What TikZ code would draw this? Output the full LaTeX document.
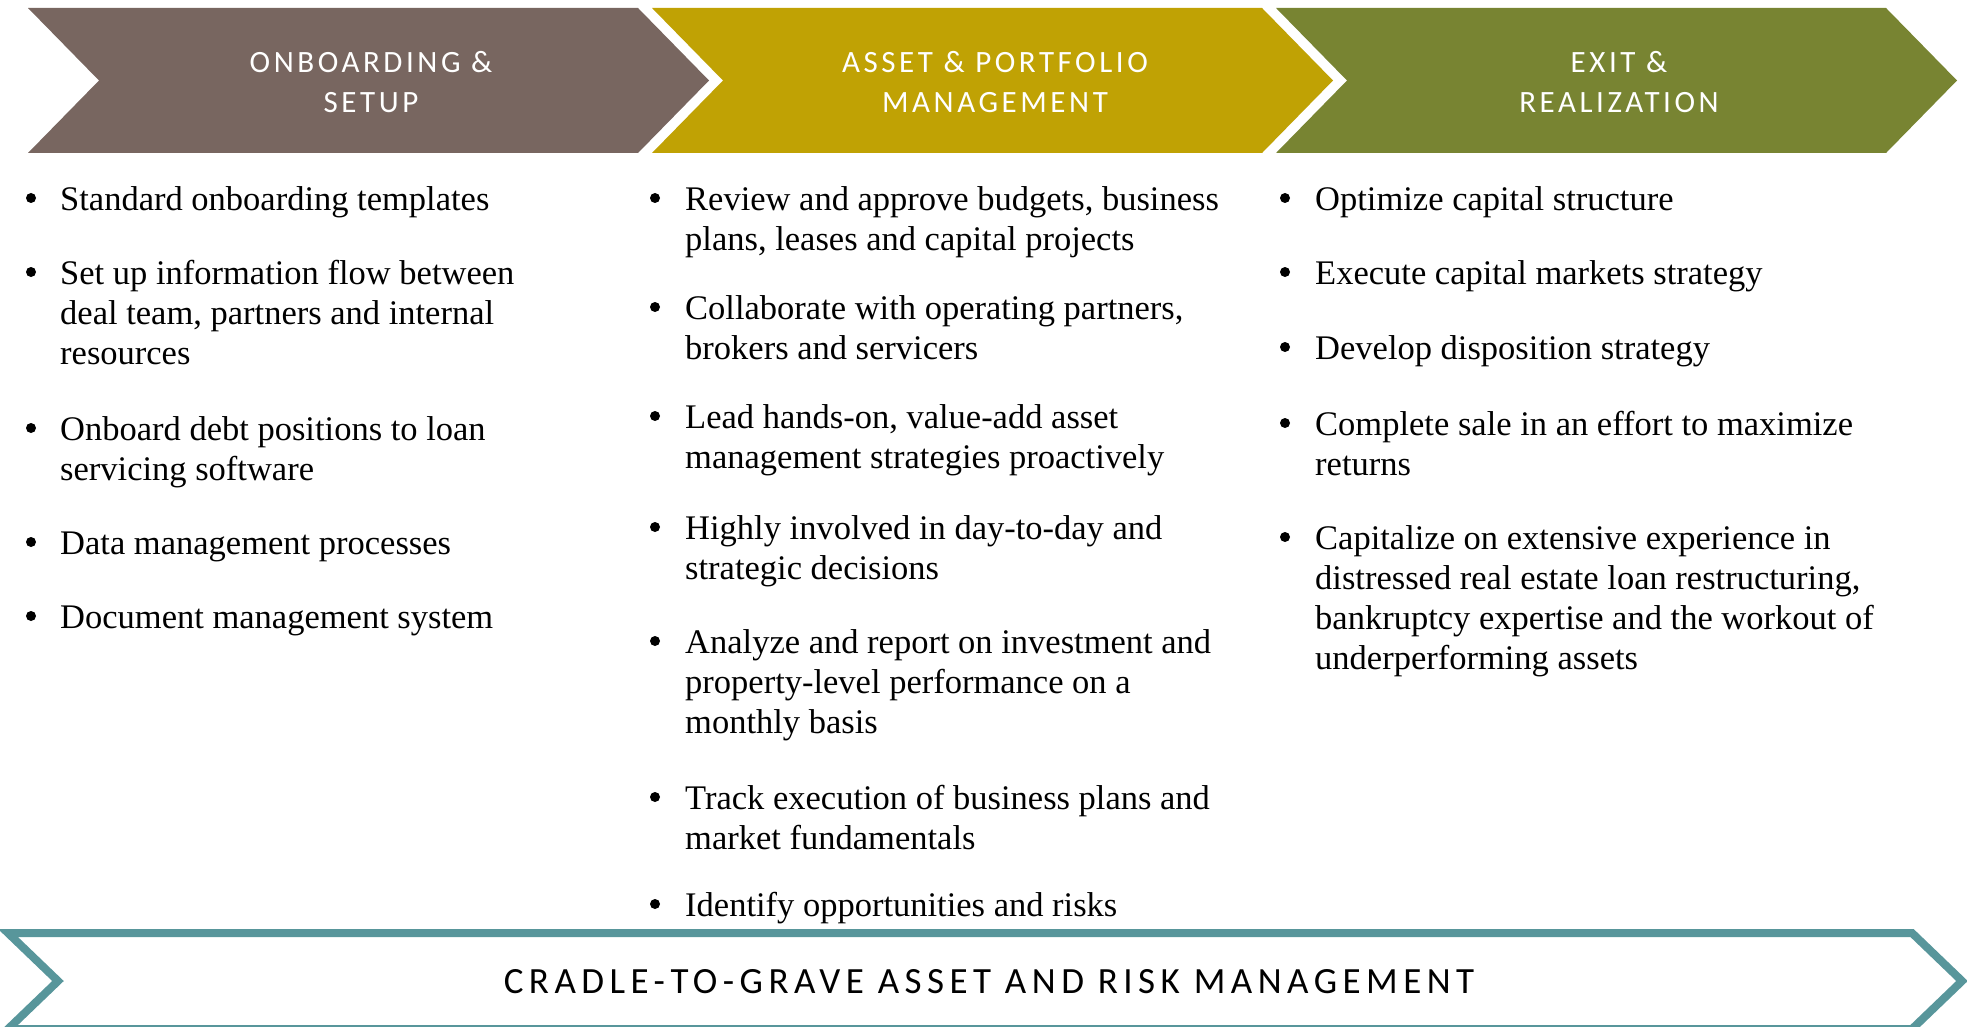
\documentclass[tikz,border=0pt]{standalone}
\usepackage{fontspec}
\setmainfont{Liberation Serif}
\newfontfamily\headfont[LetterSpace=11.5]{Carlito}
\newfontfamily\bandfont[LetterSpace=14.8]{Carlito}
\usetikzlibrary{positioning}
\definecolor{onboard}{HTML}{786660}
\definecolor{asset}{HTML}{C0A204}
\definecolor{exitc}{HTML}{788432}
\definecolor{band}{HTML}{58969B}

\tikzset{
  phasetitle/.style={text=white, align=center, inner sep=0, font=\headfont\fontsize{31}{40}\selectfont},
  item/.style={anchor=north west, inner sep=0, align=left, font=\fontsize{34.5}{40}\selectfont},
  dot/.style={circle, fill=black, inner sep=0, minimum size=10},
}

\begin{document}
\begin{tikzpicture}[x=1pt,y=-1pt]
  \useasboundingbox (0,0) rectangle (1967,1027);
  % phase chevrons
  \foreach \i/\col/\name/\title in {0/onboard/onb/{ONBOARDING \&\\SETUP}, 1/asset/apm/{ASSET \& PORTFOLIO\\MANAGEMENT}, 2/exitc/exr/{EXIT \&\\REALIZATION}}{
    \pgfmathsetmacro{\xo}{28+624*\i}
    \fill[\col] (\xo,8) -- ++(610,0) -- ++(71,72.5) -- ++(-71,72.5) -- ++(-610,0) -- ++(71,-72.5) -- cycle;
    \node[phasetitle] (\name) at (\xo+343,82.5) {\title};
  }
  % onboarding items
  \foreach \y/\txt [count=\k] in {210/{Standard onboarding templates}, 284/{Set up information flow between\\deal team, partners and internal\\resources}, 440/{Onboard debt positions to loan\\servicing software}, 554/{Data management processes}, 628/{Document management system}}{
    \node[dot] (b1-\k) at (31,\y-12) {};
    \node[item] (c1-\k) at (60,\y-28) {\strut\txt};
  }
  % asset management items
  \foreach \y/\txt [count=\k] in {210/{Review and approve budgets, business\\plans, leases and capital projects}, 319/{Collaborate with operating partners,\\brokers and servicers}, 428/{Lead hands-on, value-add asset\\management strategies proactively}, 539/{Highly involved in day-to-day and\\strategic decisions}, 653/{Analyze and report on investment and\\property-level performance on a\\monthly basis}, 809/{Track execution of business plans and\\market fundamentals}, 916/{Identify opportunities and risks}}{
    \node[dot] (b2-\k) at (655,\y-12) {};
    \node[item] (c2-\k) at (685,\y-28) {\strut\txt};
  }
  % exit items
  \foreach \y/\txt [count=\k] in {210/{Optimize capital structure}, 284/{Execute capital markets strategy}, 359/{Develop disposition strategy}, 435/{Complete sale in an effort to maximize\\returns}, 549/{Capitalize on extensive experience in\\distressed real estate loan restructuring,\\bankruptcy expertise and the workout of\\underperforming assets}}{
    \node[dot] (b3-\k) at (1285,\y-12) {};
    \node[item] (c3-\k) at (1315,\y-28) {\strut\txt};
  }
  % cradle-to-grave band
  \draw[band, line width=8, line join=miter] (8,933) -- (1912,933) -- (1962,981) -- (1912,1029) -- (8,1029) -- (58,981) -- cycle;
  \node[inner sep=0, font=\bandfont\fontsize{37}{40}\selectfont] (crm) at (989,982) {CRADLE-TO-GRAVE ASSET AND RISK MANAGEMENT};
\end{tikzpicture}
\end{document}
